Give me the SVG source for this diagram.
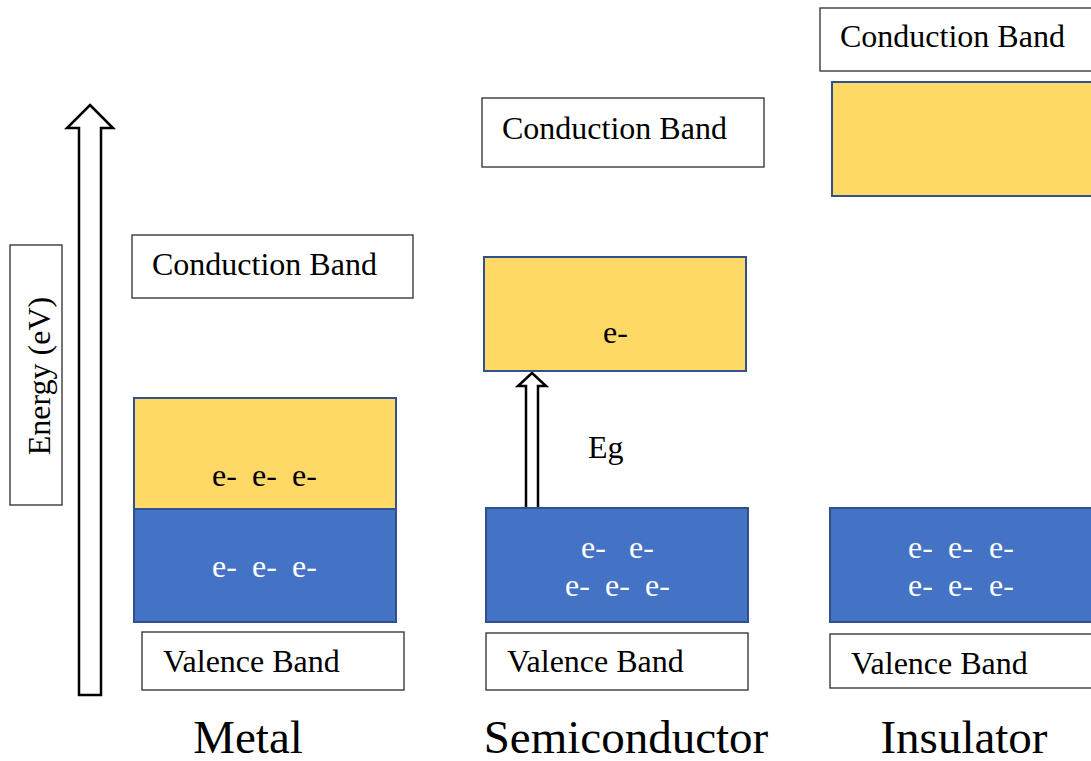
<svg xmlns="http://www.w3.org/2000/svg" width="1091" height="761" viewBox="0 0 1091 761">
<style>
text{font-family:"Liberation Serif","Times New Roman",serif;font-size:32px;fill:#000}
.lbl{fill:#fff;stroke:#2b2b2b;stroke-width:1.3}
.cb{fill:#FFD966;stroke:#2F528F;stroke-width:2}
.vb{fill:#4472C4;stroke:#2F528F;stroke-width:2}
.w{fill:#fff}
.big{font-size:47px;text-anchor:middle}
.arr{fill:#fff;stroke:#000;stroke-width:2.5;stroke-linejoin:miter}
</style>
<rect width="1091" height="761" fill="#fff"/>
<g id="axis">
<rect class="lbl" x="10" y="245" width="52" height="260"/>
<text transform="translate(50,376) rotate(-90)" text-anchor="middle">Energy (eV)</text>
</g>
<g id="connectors">
<polygon class="arr" points="90,105 113,128 101,128 101,695 79,695 79,128 67,128"/>
<polygon class="arr" points="532,373 546,386 538,386 538,511 526,511 526,386 518,386"/>
</g>
<g id="metal">
<rect class="lbl" x="132" y="235" width="281" height="63"/>
<text x="152" y="275">Conduction Band</text>
<rect class="cb" x="134" y="398" width="262" height="111"/>
<text><tspan x="212" y="486">e-</tspan><tspan x="252" y="486">e-</tspan><tspan x="292" y="486">e-</tspan></text>
<rect class="vb" x="134" y="509" width="262" height="113"/>
<text class="w"><tspan x="212" y="577">e-</tspan><tspan x="252" y="577">e-</tspan><tspan x="292" y="577">e-</tspan></text>
<rect class="lbl" x="142" y="632" width="262" height="58"/>
<text x="163" y="672">Valence Band</text>
<text class="big" x="248" y="753">Metal</text>
</g>
<g id="semiconductor">
<rect class="lbl" x="482" y="98" width="282" height="69"/>
<text x="502" y="139">Conduction Band</text>
<rect class="cb" x="484" y="257" width="262" height="114"/>
<text x="603" y="343">e-</text>
<text x="588" y="458">Eg</text>
<rect class="vb" x="486" y="508" width="262" height="114"/>
<text class="w"><tspan x="581" y="558">e-</tspan><tspan x="629" y="558">e-</tspan><tspan x="565" y="596">e-</tspan><tspan x="605" y="596">e-</tspan><tspan x="645" y="596">e-</tspan></text>
<rect class="lbl" x="486" y="633" width="262" height="57"/>
<text x="507" y="672">Valence Band</text>
<text class="big" x="626" y="753">Semiconductor</text>
</g>
<g id="insulator">
<rect class="lbl" x="820" y="8" width="290" height="63"/>
<text x="840" y="47">Conduction Band</text>
<rect class="cb" x="832" y="82" width="280" height="114"/>
<rect class="vb" x="830" y="508" width="280" height="114"/>
<text class="w"><tspan x="908" y="558">e-</tspan><tspan x="948" y="558">e-</tspan><tspan x="989" y="558">e-</tspan><tspan x="908" y="596">e-</tspan><tspan x="948" y="596">e-</tspan><tspan x="989" y="596">e-</tspan></text>
<rect class="lbl" x="830" y="634" width="280" height="54"/>
<text x="851" y="674">Valence Band</text>
<text class="big" x="964" y="753">Insulator</text>
</g>
</svg>
